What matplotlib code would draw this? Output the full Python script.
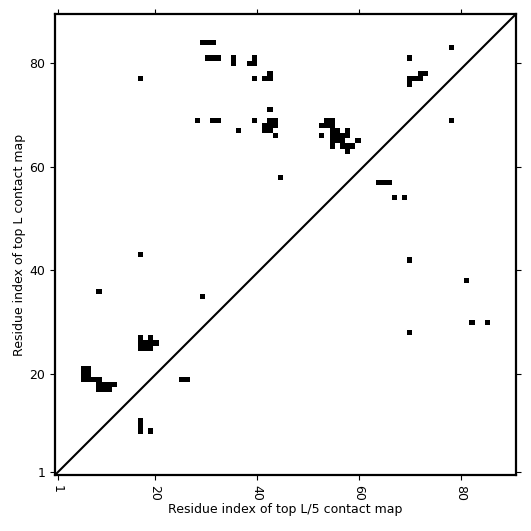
import numpy as np
import matplotlib
matplotlib.use("Agg")
import matplotlib.pyplot as plt

# contacts above the diagonal (top L map)
top_L_x = [17, 29, 30, 31, 30, 31, 32, 35, 35, 38, 39, 39, 39,
           41, 42, 42, 28, 31, 32, 39, 36, 42,
           42, 43, 41, 42, 43, 41, 42, 43, 44,
           53, 54, 52, 53, 54, 52, 54, 55, 57, 54, 55, 56, 57,
           54, 55, 56, 59, 54, 56, 57, 58, 57,
           69, 77, 71, 72, 69, 70, 71, 69,
           9, 17, 29,
           17, 19, 17, 18, 19, 20, 17, 18, 19,
           6, 7, 6, 7, 6, 7, 8, 9, 9, 10, 11, 12, 9, 10, 11]
top_L_y = [77, 84, 84, 84, 81, 81, 81, 80, 81, 80, 80, 81, 77,
           77, 77, 78, 69, 69, 69, 69, 67, 71,
           69, 69, 68, 68, 68, 67, 67, 66, 58,
           69, 69, 68, 68, 68, 66, 67, 67, 67, 66, 66, 66, 66,
           65, 65, 65, 65, 64, 64, 64, 64, 63,
           81, 83, 78, 78, 77, 77, 77, 76,
           36, 43, 35,
           27, 27, 26, 26, 26, 26, 25, 25, 25,
           21, 21, 20, 20, 19, 19, 19, 19, 18, 18, 18, 18, 17, 17, 17]

# contacts below the diagonal (top L/5 map)
top_L5_x = [77, 63, 64, 65, 66, 68, 69, 80, 81, 84, 69, 17, 17, 17, 19, 25, 26]
top_L5_y = [69, 57, 57, 57, 54, 54, 42, 38, 30, 30, 28, 9, 10, 11, 9, 19, 19]

L = 89
ticks = [1, 20, 40, 60, 80]

fig = plt.figure(figsize=(5.31, 5.31), dpi=100)
ax = fig.add_axes([55/531, 56/531, 461/531, 461/531])

xs = top_L_x + top_L5_x
ys = top_L_y + top_L5_y
ax.bar(xs, 1, width=1, bottom=np.array(ys) - 0.5, color="k", linewidth=0)

ax.plot([0.5, L + 0.5], [0.5, L + 0.5], color="k", lw=1.5)

ax.set_xlim(0.5, L + 0.5)
ax.set_ylim(0.5, L + 0.5)
# x ticks sit a little off the residue grid in the original
ax.set_xticks([1 + (t - 1) * 0.985 for t in ticks])
ax.set_yticks(ticks)
ax.set_xticklabels([str(t) for t in ticks], rotation=-90)
ax.set_yticklabels([str(t) for t in ticks])
ax.tick_params(top=True, right=True, direction="out", labelsize=9)
for s in ax.spines.values():
    s.set_linewidth(1.6)

ax.set_xlabel("Residue index of top L/5 contact map", fontsize=9, labelpad=2)
ax.set_ylabel("Residue index of top L contact map", fontsize=9, labelpad=2.5)

fig.savefig("out.png", dpi=100)
